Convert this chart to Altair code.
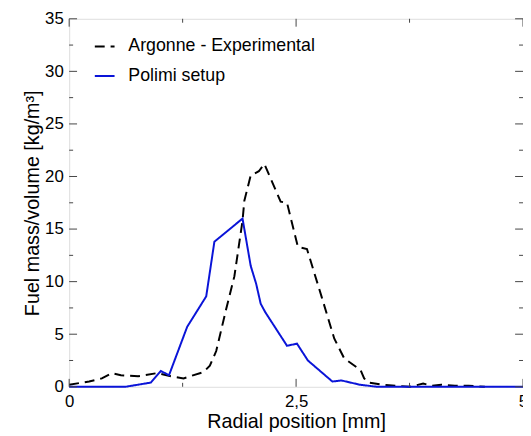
import altair as alt
import pandas as pd

# Argonne - Experimental
x_exp = [0, 0.22, 0.36, 0.47, 0.57, 0.76, 0.97, 1.12, 1.26, 1.48,
         1.55, 1.62, 1.73, 1.82, 1.91, 1.93, 2.0, 2.09, 2.15, 2.33,
         2.4, 2.52, 2.62, 2.78, 2.92, 3.03, 3.21, 3.25, 3.3, 3.45,
         3.6, 3.75, 3.9, 4.0, 4.1, 4.25, 4.4, 4.58]
y_exp = [0.2, 0.5, 0.8, 1.3, 1.1, 1.0, 1.3, 1.0, 0.8, 1.4,
         2.0, 3.4, 7.4, 10.5, 15.8, 17.7, 20.1, 20.5, 21.2, 17.6,
         17.5, 13.3, 13.1, 8.6, 4.6, 2.7, 1.6, 0.8, 0.4, 0.2,
         0.1, 0.0, 0.3, 0.1, 0.2, 0.1, 0.1, 0.0]

# Polimi setup
x_pol = [0, 0.62, 0.9, 1.01, 1.1, 1.3, 1.51, 1.6, 1.91, 2.0, 2.06,
         2.11, 2.16, 2.4, 2.51, 2.63, 2.9, 3.0, 3.2, 3.39, 5.0]
y_pol = [0, 0, 0.4, 1.5, 1.1, 5.7, 8.6, 13.8, 16.0, 11.5, 9.8,
         7.9, 7.1, 3.9, 4.1, 2.5, 0.5, 0.6, 0.2, 0, 0]

series = ["Argonne - Experimental", "Polimi setup"]

x_major = [0, 2.5, 5]
x_minor = [1.25, 3.75]
y_major = [0, 5, 10, 15, 20, 25, 30, 35]
y_minor = [2.5, 7.5, 12.5, 17.5, 22.5, 27.5, 32.5]

W, H = 460, 373
FONT = "Liberation Sans"

df = pd.DataFrame(
    {"x": x_exp + x_pol,
     "y": y_exp + y_pol,
     "s": [series[0]] * len(x_exp) + [series[1]] * len(x_pol),
     "o": list(range(len(x_exp))) + list(range(len(x_pol)))}
)

xs = alt.Scale(domain=[0, 5], nice=False, zero=False)
ys = alt.Scale(domain=[0, 35], nice=False)

legend = alt.Legend(title=None, orient="none", legendX=25, legendY=17,
                    symbolType="stroke", symbolSize=400,
                    symbolStrokeWidth=2, labelFontSize=18,
                    labelFont=FONT, labelColor="black", labelLimit=400,
                    labelOffset=13, rowPadding=10, padding=0)

lines = alt.Chart(df).mark_line(strokeWidth=2).encode(
    x=alt.X("x:Q", scale=xs,
            axis=alt.Axis(values=x_major, ticks=False, domain=False, grid=False,
                          labelExpr="replace(format(datum.value, '~r'), '.', ',')",
                          labelFontSize=17, labelFont=FONT, labelColor="black",
                          labelPadding=7, labelFlush=False,
                          title="Radial position [mm]", titleFontSize=20,
                          titleFont=FONT, titleFontWeight="normal",
                          titleColor="black", titlePadding=2)),
    y=alt.Y("y:Q", scale=ys,
            axis=alt.Axis(values=y_major, ticks=False, domain=False, grid=False,
                          labelFontSize=17, labelFont=FONT, labelColor="black",
                          labelPadding=6,
                          title="Fuel mass/volume [kg/m³]", titleFontSize=20,
                          titleFont=FONT, titleFontWeight="normal",
                          titleColor="black", titlePadding=2)),
    color=alt.Color("s:N", scale=alt.Scale(domain=series, range=["black", "#0a14d8"]),
                    legend=legend),
    strokeDash=alt.StrokeDash("s:N", scale=alt.Scale(domain=series, range=[[10, 6], [1, 0]]),
                              legend=legend),
    order="o:Q",
)

tick_color = "#444"
layers = [lines]


def xticks(vals, length):
    d = pd.DataFrame({"v": vals})
    b = alt.Chart(d).mark_rule(color=tick_color, strokeWidth=1)
    bottom = b.encode(x=alt.X("v:Q", scale=xs), y=alt.value(H), y2=alt.value(H - length))
    top = b.encode(x=alt.X("v:Q", scale=xs), y=alt.value(0), y2=alt.value(length))
    return [bottom, top]


def yticks(vals, length):
    d = pd.DataFrame({"v": vals})
    b = alt.Chart(d).mark_rule(color=tick_color, strokeWidth=1)
    left = b.encode(y=alt.Y("v:Q", scale=ys), x=alt.value(0), x2=alt.value(length))
    right = b.encode(y=alt.Y("v:Q", scale=ys), x=alt.value(W), x2=alt.value(W - length))
    return [left, right]


layers += xticks(x_major, 8) + xticks(x_minor, 4) + yticks(y_major, 8) + yticks(y_minor, 4)

chart = alt.layer(*layers).properties(
    width=W, height=H,
    padding={"left": 62, "top": 8, "right": 0, "bottom": 50},
    autosize=alt.AutoSizeParams(type="none"),
).configure_view(stroke="#222", strokeWidth=1).configure(background="white")

chart.save("out.html", embed_options={"renderer": "svg", "actions": False})
